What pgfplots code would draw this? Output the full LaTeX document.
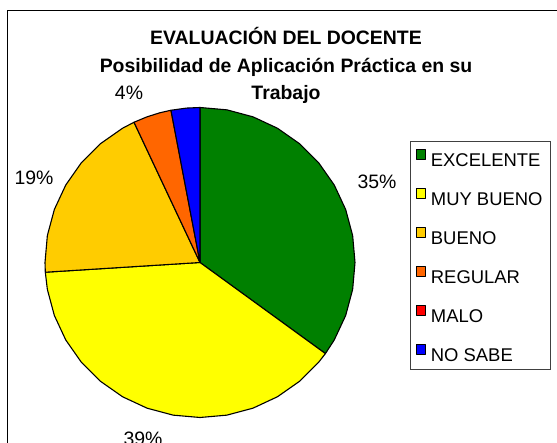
\documentclass[border=0pt]{standalone}
\usepackage{pgfplots}
\pgfplotsset{compat=1.18}
\usepackage{fontspec}
\setmainfont{Liberation Sans}
\definecolor{cGreen}{RGB}{0,128,0}
\definecolor{cYellow}{RGB}{255,255,0}
\definecolor{cGold}{RGB}{255,204,0}
\definecolor{cOrange}{RGB}{255,102,0}
\definecolor{cRed}{RGB}{255,0,0}
\definecolor{cBlue}{RGB}{0,0,255}
\newcommand{\lent}[1]{\hspace{4.5bp}\makebox[114bp][l]{#1}}
\begin{document}
\begin{tikzpicture}[x=1bp,y=1bp]
\useasboundingbox (0,0) rectangle (557,443);
\fill[white] (0,0) rectangle (557,443);
% outer chart border (image y measured from top)
\draw[line width=1bp] (7,-20) -- (7,432) -- (580,432);
\begin{axis}[
  at={(200bp,180.5bp)}, anchor=center,
  width=310bp, height=310bp, scale only axis,
  xmin=-1, xmax=1, ymin=-1, ymax=1,
  hide axis, data cs=polar, clip=false,
  every axis plot/.append style={draw=black, line width=1.1bp, line join=round},
  legend image code/.code={\draw[#1, line width=1bp] (0bp,0bp) rectangle (9.5bp,9.5bp);},
  legend cell align=left,
  legend style={draw=black!75, line width=0.8bp, fill=white,
    at={(1.1774,0.8919)}, anchor=north west,
    font=\fontsize{18.5}{18.5}\selectfont,
    inner xsep=5.5bp, inner ysep=7.8bp, row sep=21.9bp,
    nodes={inner sep=0pt, text height=14.3bp, text depth=0pt}},
]
% EXCELENTE 35%
\addplot[fill=cGreen] coordinates {(90,0) (90,1) (80,1) (70,1) (60,1) (50,1) (40,1) (30,1) (20,1) (10,1) (0,1) (-10,1) (-20,1) (-30,1) (-36,1) (-36,0)} -- cycle;
\addlegendentry{\lent{EXCELENTE}}
% MUY BUENO 39%
\addplot[fill=cYellow] coordinates {(-36,0) (-36,1) (-40,1) (-50,1) (-60,1) (-70,1) (-80,1) (-90,1) (-100,1) (-110,1) (-120,1) (-130,1) (-140,1) (-150,1) (-160,1) (-170,1) (-176.4,1) (-176.4,0)} -- cycle;
\addlegendentry{\lent{MUY BUENO}}
% BUENO 19%
\addplot[fill=cGold] coordinates {(-176.4,0) (-176.4,1) (-180,1) (-190,1) (-200,1) (-210,1) (-220,1) (-230,1) (-240,1) (-244.8,1) (-244.8,0)} -- cycle;
\addlegendentry{\lent{BUENO}}
% REGULAR 4%
\addplot[fill=cOrange] coordinates {(-244.8,0) (-244.8,1) (-250,1) (-255,1) (-259.2,1) (-259.2,0)} -- cycle;
\addlegendentry{\lent{REGULAR}}
% MALO 0%
\addlegendimage{fill=cRed, draw=black}
\addlegendentry{\lent{MALO}}
% NO SABE 3%
\addplot[fill=cBlue] coordinates {(-259.2,0) (-259.2,1) (-265,1) (-270,1) (-270,0)} -- cycle;
\addlegendentry{\lent{NO SABE}}
\end{axis}
% title
\node[font=\fontsize{19.5}{19.5}\bfseries\selectfont, anchor=base] at (286,443-45) {EVALUACIÓN DEL DOCENTE};
\node[font=\fontsize{19.5}{19.5}\bfseries\selectfont, anchor=base] at (286,443-73) {Posibilidad de Aplicación Práctica en su};
\node[font=\fontsize{19.5}{19.5}\bfseries\selectfont, anchor=base] at (286,443-100) {Trabajo};
% percentage labels
\node[font=\fontsize{19.5}{19.5}\selectfont, anchor=base] at (377,443-189) {35\%};
\node[font=\fontsize{19.5}{19.5}\selectfont, anchor=base] at (143,443-446) {39\%};
\node[font=\fontsize{19.5}{19.5}\selectfont, anchor=base] at (34,443-185) {19\%};
\node[font=\fontsize{19.5}{19.5}\selectfont, anchor=base] at (129,443-100) {4\%};
\end{tikzpicture}
\end{document}
